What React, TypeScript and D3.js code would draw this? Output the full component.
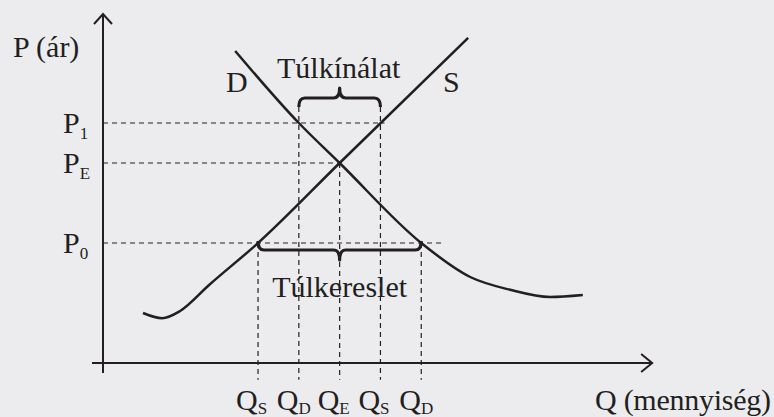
import React from "react";
import * as d3 from "d3";

// price levels on the vertical axis (top to bottom) and their subscripts
const priceLevels = [6, 5, 3];
const priceSubs = ["1", "E", "0"];
// how far right each horizontal guide runs (in Q units)
const priceGuideEnd = [6.9, 5.8, 8.33];

// quantity levels on the horizontal axis and their subscripts
const qtyLevels = [3.8, 4.8, 5.8, 6.8, 7.8];
const qtySubs = ["S", "D", "E", "S", "D"];
// top of each vertical guide (in P units)
const qtyGuideTop = [3, 6.4, 5, 6.4, 3];

// supply curve
const supplyQ = [0.98, 1.45, 1.89, 2.6, 3.8, 5.8, 8.95];
const supplyP = [1.25, 1.12, 1.3, 1.95, 3, 5, 8.13];

// demand curve
const demandQ = [3.24, 4.8, 5.8, 7.8, 9.0, 9.98, 10.96, 11.76];
const demandP = [7.8, 6, 5, 3, 2.15, 1.83, 1.65, 1.7];

const W = 774;
const H = 417;
const ink = "#231f20";
const font = "Liberation Serif, DejaVu Serif, serif";

function bracePath(x1: number, x2: number, y: number, dir: number) {
  // dir -1: tip points up, +1: tip points down
  const m = (x1 + x2) / 2;
  const e = 9, t = 10, r = 6;
  return `M${x1},${y - dir * e} Q${x1},${y} ${x1 + r},${y} L${m - r},${y} Q${m},${y} ${m},${y + dir * t} Q${m},${y} ${m + r},${y} L${x2 - r},${y} Q${x2},${y} ${x2},${y - dir * e}`;
}

export default function App() {
  const x = d3.scaleLinear().domain([0, 10]).range([103, 511]);
  const y = d3.scaleLinear().domain([0, 10]).range([363, -37]);

  const line = d3
    .line<[number, number]>()
    .x((d) => x(d[0]))
    .y((d) => y(d[1]))
    .curve(d3.curveMonotoneX);

  const supply = supplyQ.map((q, i) => [q, supplyP[i]] as [number, number]);
  const demand = demandQ.map((q, i) => [q, demandP[i]] as [number, number]);

  const x0 = x(0), y0 = y(0);
  const yTop = y(8.725), yBot = y(-0.25);
  const xLeft = x(-0.27), xRight = x(13.46);

  const qS1 = x(qtyLevels[0]), qD1 = x(qtyLevels[1]), qE = x(qtyLevels[2]);
  const qS2 = x(qtyLevels[3]), qD2 = x(qtyLevels[4]);

  const ts = { fontFamily: font, fontSize: 30 };
  const sub = { fontSize: 17 };

  return (
    <svg
      width={W}
      height={H}
      style={{ position: "absolute", left: 0, top: 0 }}
      fill={ink}
    >
      <rect width={W} height={H} fill="#ececef" />

      {/* guides */}
      <g stroke={ink} strokeWidth={1.2} strokeDasharray="5 4" fill="none">
        {priceLevels.map((p, i) => (
          <line key={"h" + i} x1={x0} x2={x(priceGuideEnd[i])} y1={y(p)} y2={y(p)} />
        ))}
        {qtyLevels.map((q, i) => (
          <line key={"v" + i} x1={x(q)} x2={x(q)} y1={y(qtyGuideTop[i])} y2={y(-0.42)} />
        ))}
      </g>

      {/* axes */}
      <g stroke={ink} strokeWidth={2} fill="none">
        <line x1={x0} x2={x0} y1={yTop} y2={yBot} />
        <line x1={xLeft} x2={xRight} y1={y0} y2={y0} />
        <path d={`M${x0 - 9},${yTop + 10} L${x0},${yTop} L${x0 + 9},${yTop + 10}`} />
        <path d={`M${xRight - 11},${y0 - 9} L${xRight},${y0} L${xRight - 11},${y0 + 9}`} />
      </g>

      {/* curves */}
      <path d={line(supply) ?? ""} fill="none" stroke={ink} strokeWidth={2.5} />
      <path d={line(demand) ?? ""} fill="none" stroke={ink} strokeWidth={2.5} />

      {/* braces */}
      <path d={bracePath(qD1, qS2, 98, -1)} fill="none" stroke={ink} strokeWidth={3.2} strokeLinejoin="round" />
      <path d={bracePath(qS1, qD2, y(3) + 7, 1)} fill="none" stroke={ink} strokeWidth={3.2} strokeLinejoin="round" />

      {/* text */}
      <text style={ts} x={13} y={57}>P (ár)</text>
      <text style={ts} x={226} y={92}>D</text>
      <text style={ts} x={443} y={92}>S</text>
      <text style={ts} x={qE - 1} y={78} textAnchor="middle">Túlkínálat</text>
      <text style={ts} x={qE} y={297} textAnchor="middle">Túlkereslet</text>
      <text style={ts} x={595} y={410} textLength={176} lengthAdjust="spacing">Q (mennyiség)</text>
      {priceLevels.map((p, i) => (
        <text style={ts} key={"pl" + i} x={63} y={y(p) + 10}>
          P<tspan style={sub} dy={6}>{priceSubs[i]}</tspan>
        </text>
      ))}
      {qtyLevels.map((q, i) => (
        <text style={ts} key={"ql" + i} x={x(q) - 22} y={410}>
          Q<tspan style={sub} dy={4}>{qtySubs[i]}</tspan>
        </text>
      ))}
    </svg>
  );
}
